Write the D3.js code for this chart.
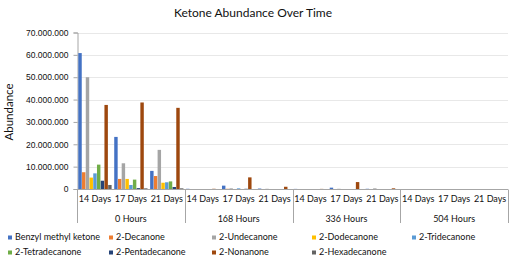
<!DOCTYPE html>
<html>
<head>
<meta charset="utf-8">
<script src="https://cdn.jsdelivr.net/npm/d3@7"></script>
<style>
  body { margin: 0; background: #fff; }
  svg { font-family: "Lato", "Open Sans", sans-serif; }
</style>
</head>
<body>
<div id="chart"></div>
<script>
// categories
const hours = ["0 Hours", "168 Hours", "336 Hours", "504 Hours"];
const days = ["14 Days", "17 Days", "21 Days"];
const compounds = ["Benzyl methyl ketone", "2-Decanone", "2-Undecanone", "2-Dodecanone",
    "2-Tridecanone", "2-Tetradecanone", "2-Pentadecanone", "2-Nonanone", "2-Hexadecanone"];
const colors = ["#4472c4", "#ed7d31", "#a5a5a5", "#ffc000", "#5b9bd5", "#70ad47", "#264478", "#9e480e", "#636363"];

// values in millions, order: hours x days (14, 17, 21)
const benzyl = [60.8, 23.3, 8.1, 0.1, 1.5, 0.2, 0.05, 0.6, 0.1, 0, 0, 0];
const decanone = [7.5, 4.5, 5.8, 0, 0.1, 0, 0, 0, 0, 0, 0, 0];
const undecanone = [50.0, 11.5, 17.5, 0, 0.3, 0.1, 0, 0.1, 0.3, 0, 0, 0];
const dodecanone = [5.1, 4.5, 2.8, 0, 0, 0, 0, 0, 0, 0, 0, 0];
const tridecanone = [7.0, 1.8, 3.0, 0, 0.3, 0, 0, 0, 0, 0, 0, 0];
const tetradecanone = [10.9, 4.2, 3.4, 0, 0, 0, 0, 0, 0, 0, 0, 0];
const pentadecanone = [3.7, 0.4, 0.9, 0, 0.1, 0, 0, 0, 0, 0, 0, 0];
const nonanone = [37.6, 38.7, 36.3, 0.1, 5.2, 1.0, 0.05, 3.1, 0.3, 0, 0, 0];
const hexadecanone = [1.8, 0.3, 0.3, 0, 0, 0, 0, 0, 0, 0, 0, 0];
const series = [benzyl, decanone, undecanone, dodecanone, tridecanone,
    tetradecanone, pentadecanone, nonanone, hexadecanone];
const yTicks = [0, 10, 20, 30, 40, 50, 60, 70];

const width = 521, height = 265;
const margin = { top: 32.5, right: 13, bottom: 76, left: 77 };

const svg = d3.select("#chart").append("svg")
    .attr("width", width)
    .attr("height", height);

const y = d3.scaleLinear()
    .domain([0, 70])
    .range([height - margin.bottom, margin.top]);

const x0 = d3.scaleBand()
    .domain(hours)
    .range([margin.left, width - margin.right]);

const x1 = d3.scaleBand()
    .domain(days)
    .range([0, x0.bandwidth()]);

const x2 = d3.scaleBand()
    .domain(compounds)
    .range([0, x1.bandwidth()])
    .paddingInner(0.08)
    .paddingOuter(0.35);

const fmt = d3.formatLocale({ decimal: ",", thousands: ".", grouping: [3], currency: ["", ""] }).format(",");

// gridlines
svg.append("g")
    .selectAll("line")
    .data(yTicks.filter(d => d > 0))
    .join("line")
    .attr("x1", margin.left)
    .attr("x2", width - margin.right)
    .attr("y1", d => Math.round(y(d)) + 0.5)
    .attr("y2", d => Math.round(y(d)) + 0.5)
    .attr("stroke", "#e8e8e8");

// y axis
const yAxis = svg.append("g")
    .attr("transform", `translate(${margin.left + 0.5},0)`)
    .call(d3.axisLeft(y).tickValues(yTicks).tickSize(4).tickFormat(d => fmt(d * 1e6)));
yAxis.select(".domain").attr("stroke", "#a6a6a6");
yAxis.selectAll(".tick line").attr("stroke", "#a6a6a6");
yAxis.selectAll(".tick text")
    .attr("font-size", 8.5)
    .attr("fill", "#111")
    .attr("x", -9);

// bars
const rows = [];
hours.forEach((h, hi) => days.forEach((d, di) => {
    compounds.forEach((c, ci) => {
        rows.push({ h, d, c, ci, v: series[ci][hi * 3 + di] });
    });
}));

svg.append("g")
    .selectAll("rect")
    .data(rows)
    .join("rect")
    .attr("x", r => x0(r.h) + x1(r.d) + x2(r.c))
    .attr("width", x2.bandwidth())
    .attr("y", r => y(r.v))
    .attr("height", r => y(0) - y(r.v))
    .attr("fill", r => colors[r.ci]);

// x axis: baseline, group separators, labels
const base = Math.round(y(0)) + 0.5;
svg.append("line")
    .attr("x1", margin.left)
    .attr("x2", width - margin.right)
    .attr("y1", base)
    .attr("y2", base)
    .attr("stroke", "#a6a6a6");

const seps = hours.map(h => x0(h)).concat([width - margin.right]);
svg.append("g")
    .selectAll("line")
    .data(seps)
    .join("line")
    .attr("x1", d => Math.round(d) + 0.5)
    .attr("x2", d => Math.round(d) + 0.5)
    .attr("y1", base)
    .attr("y2", 223)
    .attr("stroke", "#a6a6a6");

hours.forEach(h => {
    days.forEach(d => {
        svg.append("text")
            .attr("x", x0(h) + x1(d) + x1.bandwidth() / 2)
            .attr("y", 202)
            .attr("text-anchor", "middle")
            .attr("font-size", 9)
            .attr("fill", "#111")
            .text(d);
    });
    svg.append("text")
        .attr("x", x0(h) + x0.bandwidth() / 2)
        .attr("y", 222)
        .attr("text-anchor", "middle")
        .attr("font-size", 9)
        .attr("fill", "#111")
        .text(h);
});

// titles
svg.append("text")
    .attr("x", 253)
    .attr("y", 17)
    .attr("text-anchor", "middle")
    .attr("font-size", 12)
    .attr("fill", "#111")
    .text("Ketone Abundance Over Time");

svg.append("text")
    .attr("transform", "translate(13,112) rotate(-90)")
    .attr("text-anchor", "middle")
    .attr("font-size", 11.5)
    .attr("fill", "#111")
    .text("Abundance");

// legend
const legCols = [8, 109, 212, 312, 412];
const legend = svg.append("g")
    .selectAll("g")
    .data(compounds)
    .join("g")
    .attr("transform", (d, i) => `translate(${legCols[i % 5]},${i < 5 ? 240 : 255})`);
legend.append("rect")
    .attr("x", 0)
    .attr("y", -4.5)
    .attr("width", 4)
    .attr("height", 4)
    .attr("fill", (d, i) => colors[i]);
legend.append("text")
    .attr("x", 7)
    .attr("y", 0)
    .attr("font-size", 9)
    .attr("fill", "#111")
    .text(d => d);
</script>
</body>
</html>
